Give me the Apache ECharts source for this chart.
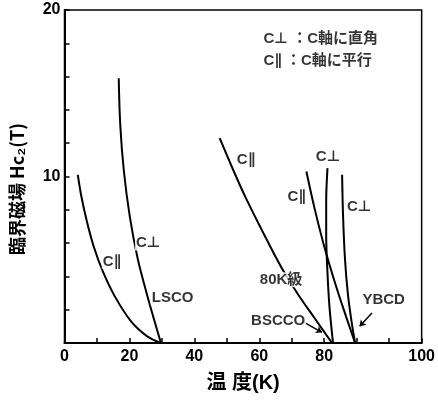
<!DOCTYPE html>
<html><head><meta charset="utf-8">
<script src="https://cdn.jsdelivr.net/npm/echarts@6/dist/echarts.min.js"></script>
<style>html,body{margin:0;padding:0;background:#fff}#c{width:438px;height:400px}</style>
</head><body><div id="c"></div>
<script>
// Temperature (K) vs upper critical field Hc2 (T)
const lscoPerp = [[16.7,15.9],[17.2,13.0],[18.3,10.3],[20.1,7.6],[22.5,5.1],[25.0,3.2],[27.3,1.6],[29.7,0]];
const lscoPara = [[4.1,10.1],[5.2,8.8],[6.9,7.3],[9.0,5.8],[11.8,4.3],[15.5,2.8],[20.5,1.3],[25.5,0.4],[29.7,0]];
const bsccoPara = [[47.8,12.3],[51.5,10.6],[55.4,8.9],[61.0,6.7],[66.9,4.5],[72.0,2.9],[77.0,1.5],[82.4,0]];
const bsccoPerp = [[81.0,10.5],[80.6,8.5],[80.6,6.5],[81.0,4.2],[81.6,2.2],[82.7,0]];
const ybcoPara = [[74.5,10.3],[77.0,8.1],[80.0,5.8],[83.5,3.5],[86.7,1.6],[89.5,0]];
const ybcoPerp = [[85.5,10.1],[85.8,7.6],[86.4,5.0],[87.3,2.9],[88.4,1.3],[89.5,0]];

const xLabelText = {0:'0',20:'20',40:'40',60:'60',80:'80',110:'100'};
const yLabelText = {10:'10',20:'20'};

const curveLabels = [
  [14.6,4.9,'C∥'],[25.8,6.0,'C⊥'],[33.3,2.7,'LSCO'],
  [55.9,11.0,'C∥'],[81.2,11.2,'C⊥'],[71.5,8.8,'C∥'],[90.8,8.2,'C⊥'],
  [66.7,3.8,'80K級'],[65.8,1.3,'BSCCO'],[98.3,2.6,'YBCD']
];
const keyLines = [[61.3,18.25,'C⊥ ：C軸に直角'],[61.3,16.95,'C∥ ：C軸に平行']];
const arrows = [[[73.4,1.28],[79.3,0.64]],[[94.7,1.8],[90.9,1.0]]];

const FONT = "'Liberation Sans','DejaVu Sans','Noto Sans CJK JP',sans-serif";
const chart = echarts.init(document.getElementById('c'), null, {renderer:'canvas'});
const lineS = d => ({type:'line', data:d, showSymbol:false, smooth:0.35, symbol:'none',
  lineStyle:{color:'#000', width:2}, z:2, animation:false});
const txt = {color:'#000', fontFamily:FONT, fontWeight:'bold', fontSize:15};
const tickTxt = {color:'#000', fontFamily:FONT, fontWeight:'bold', fontSize:16};

chart.setOption({
  animation:false,
  backgroundColor:'#fff',
  grid:{left:64.5, right:9, top:10, bottom:57, show:true, borderColor:'#000', borderWidth:1.5},
  xAxis:{type:'value', min:0, max:110, interval:10,
    name:'温 度(K)', nameLocation:'middle', nameGap:30,
    nameTextStyle:{color:'#000', fontFamily:"'Liberation Sans','Noto Sans CJK JP',sans-serif", fontWeight:'bold', fontSize:20},
    axisLine:{lineStyle:{color:'#000', width:2}},
    axisTick:{inside:true, length:5, lineStyle:{color:'#000', width:1.5}},
    splitLine:{show:false},
    axisLabel:Object.assign({margin:6, formatter:v => xLabelText[v] || ''}, tickTxt)},
  yAxis:{type:'value', min:0, max:20, interval:2,
    axisLine:{lineStyle:{color:'#000', width:2}},
    axisTick:{inside:true, length:5, lineStyle:{color:'#000', width:1.5}},
    splitLine:{show:false},
    axisLabel:Object.assign({margin:4, formatter:v => yLabelText[v] || ''}, tickTxt)},
  graphic:[{type:'text', x:17, y:189, rotation:Math.PI/2,
    style:{text:'臨界磁場 Hc₂(T)', fill:'#000', font:"bold 18px 'Noto Sans CJK JP', sans-serif",
      align:'center', verticalAlign:'middle'}}],
  series:[
    lineS(lscoPerp), lineS(lscoPara), lineS(bsccoPara), lineS(bsccoPerp), lineS(ybcoPara), lineS(ybcoPerp),
    {type:'scatter', symbolSize:0, z:5, animation:false,
      data:curveLabels.map(d => ({value:d})),
      label:Object.assign({show:true, position:'inside', formatter:p => p.value[2],
        backgroundColor:'#fff', padding:[0,1]}, txt)},
    {type:'scatter', symbolSize:0, z:5, animation:false,
      data:keyLines.map(d => ({value:d})),
      label:Object.assign({show:true, position:'right', distance:0, formatter:p => p.value[2]}, txt)},
    {type:'lines', coordinateSystem:'cartesian2d', z:4, animation:false,
      symbol:['none','arrow'], symbolSize:6,
      lineStyle:{color:'#000', width:1.5, opacity:1},
      data:arrows.map(a => ({coords:a}))}
  ]
});
</script></body></html>
